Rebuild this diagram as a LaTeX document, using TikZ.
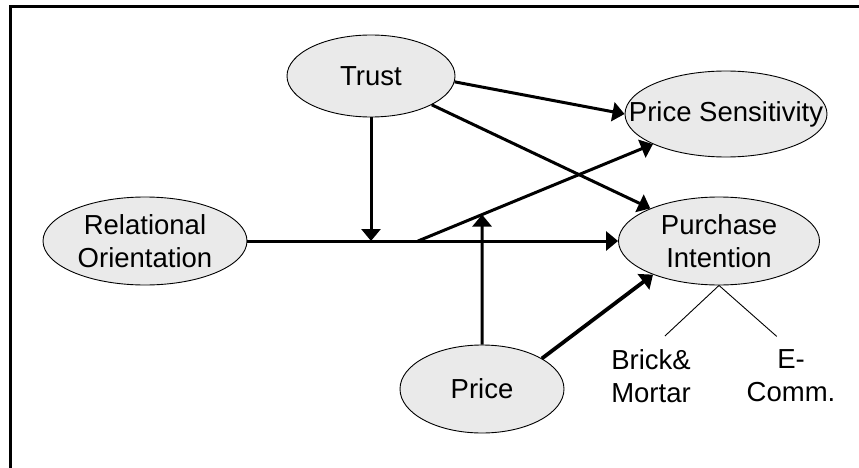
\documentclass[tikz,border=0pt]{standalone}
\usepackage{fontspec}
\setmainfont{Liberation Sans}
\usetikzlibrary{shapes.geometric,arrows.meta,calc}
\definecolor{factorgray}{HTML}{EAEAEA}
\begin{document}
\begin{tikzpicture}[x=1pt,y=-1pt,
  factor/.style={ellipse,draw,line width=0.9pt,fill=factorgray,inner sep=0pt,
    label={[font=\fontsize{27.5}{33}\selectfont,align=center]center:#1}},
  note/.style={font=\fontsize{27.5}{33}\selectfont,align=center,inner sep=0pt},
  link/.style={line width=3pt,-{Triangle[length=12pt,width=19pt]}},
  split/.style={line width=0.9pt,shorten >=19pt}]
  \useasboundingbox (0,0) rectangle (859,468);
  \draw[line width=3pt] (10.3,468) -- (10.3,6.5) -- (859,6.5);

  % constructs
  \node[factor={Trust},minimum width=168pt,minimum height=82pt] (trust) at (371,76) {};
  \node[factor={Price Sensitivity},minimum width=202pt,minimum height=86pt] (pricesens) at (726,114) {};
  \node[factor={Relational\\Orientation},minimum width=204pt,minimum height=88pt] (relorient) at (145,241) {};
  \node[factor={Purchase\\Intention},minimum width=201pt,minimum height=88pt] (purchase) at (719,241) {};
  \node[factor={Price},minimum width=164pt,minimum height=88pt] (price) at (482,389) {};

  \node[note,anchor=north] (brick) at (651,349) {Brick\&\\Mortar};
  \node[note,anchor=north] (ecomm) at (791,349) {E-\\Comm.};

  \coordinate (bend) at (418,241);
  \coordinate (meet) at ($(bend)!0.208!(pricesens.center)$);

  % paths
  \draw[link] (relorient) -- (purchase);
  \draw[link] (trust) -- (trust |- relorient);
  \draw[link] (bend) -- (pricesens);
  \draw[link] (price) -- (meet);
  \draw[link] (trust.-4) -- (pricesens.west);
  \draw[link] (trust) -- (purchase);
  \draw[link,line width=3.8pt] (price.27) -- (purchase.207);

  \draw[split] (purchase.south) -- (brick.north);
  \draw[split] (purchase.south) -- (ecomm.north);
\end{tikzpicture}
\end{document}
